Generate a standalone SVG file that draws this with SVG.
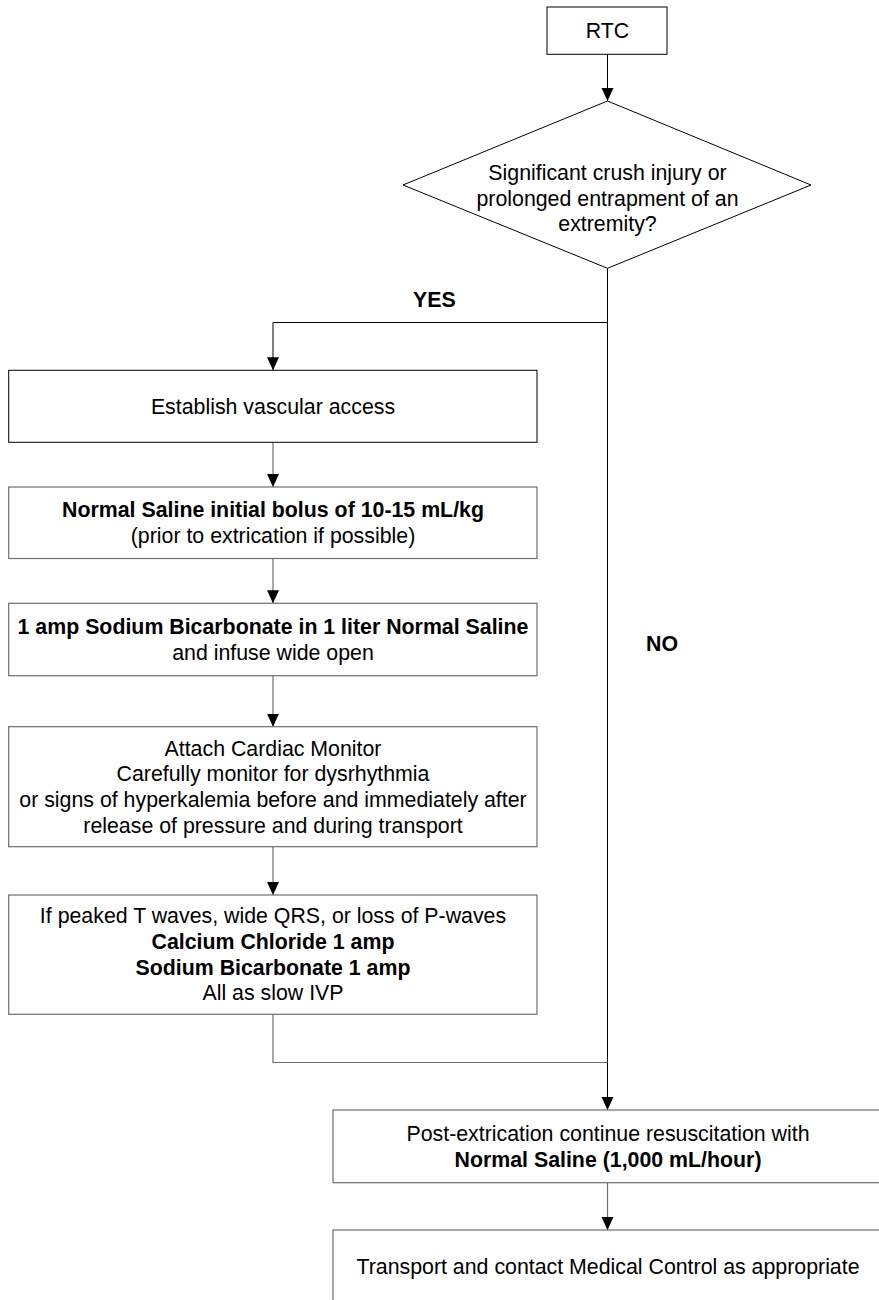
<svg xmlns="http://www.w3.org/2000/svg" width="879" height="1300" viewBox="0 0 879 1300">
<style>
text{font-family:"Liberation Sans",Arial,sans-serif;font-size:21.33px;fill:#000;text-anchor:middle}
.b{font-weight:bold}
.l{text-anchor:start}
.nd{fill:#fff;stroke:#000;stroke-width:1}
.ng{fill:#fff;stroke:#6e6e6e;stroke-width:1.2}
.c{fill:none;stroke:#000;stroke-width:1}
.cg{fill:none;stroke:#6e6e6e;stroke-width:1.2}
</style>
<defs>
<marker id="ah" markerUnits="userSpaceOnUse" markerWidth="14" markerHeight="14" viewBox="0 0 14 14" refX="13" refY="7" orient="auto">
<path d="M0,1 L13,7 L0,13 Z" fill="#000"/>
</marker>
</defs>
<rect width="879" height="1300" fill="#fff"/>
<g id="connectors">
<path class="c" d="M607.5,54.5 V101" marker-end="url(#ah)"/>
<path class="c" d="M607.5,268.5 V1110" marker-end="url(#ah)"/>
<path class="c" d="M607.5,322.5 H273 V370.3" marker-end="url(#ah)"/>
<path class="cg" d="M273,442.3 V487" marker-end="url(#ah)"/>
<path class="cg" d="M273,558.5 V603.3" marker-end="url(#ah)"/>
<path class="cg" d="M273,675.7 V726.7" marker-end="url(#ah)"/>
<path class="cg" d="M273,846.7 V895" marker-end="url(#ah)"/>
<path class="cg" d="M273,1014.3 V1062.5 H607.5"/>
<path class="cg" d="M607.5,1182.7 V1230" marker-end="url(#ah)"/>
<text class="b l" x="413" y="306.7">YES</text>
<text class="b l" x="646" y="650.7">NO</text>
</g>
<g id="rtc">
<rect class="nd" x="547" y="7" width="120" height="47.3"/>
<text x="607.5" y="38.3">RTC</text>
</g>
<g id="decision">
<polygon class="nd" points="607.5,101 811,185 607.5,268.3 403,185"/>
<text x="607.5" y="180">Significant crush injury or</text>
<text x="607.5" y="205.5">prolonged entrapment of an</text>
<text x="607.5" y="231">extremity?</text>
</g>
<g id="access">
<rect class="nd" x="8.7" y="370.3" width="528.3" height="72"/>
<text x="273" y="413.5">Establish vascular access</text>
</g>
<g id="bolus">
<rect class="ng" x="8.7" y="487" width="528.3" height="71.5"/>
<text class="b" x="273" y="517.3">Normal Saline initial bolus of 10-15 mL/kg</text>
<text x="273" y="542.9">(prior to extrication if possible)</text>
</g>
<g id="bicarb">
<rect class="ng" x="8.7" y="603.3" width="528.3" height="72.4"/>
<text class="b" x="273" y="634.2">1 amp Sodium Bicarbonate in 1 liter Normal Saline</text>
<text x="273" y="659.8">and infuse wide open</text>
</g>
<g id="monitor">
<rect class="ng" x="8.7" y="726.7" width="528.3" height="120"/>
<text x="273" y="755.8">Attach Cardiac Monitor</text>
<text x="273" y="781.4">Carefully monitor for dysrhythmia</text>
<text x="273" y="807">or signs of hyperkalemia before and immediately after</text>
<text x="273" y="832.6">release of pressure and during transport</text>
</g>
<g id="hyperk">
<rect class="ng" x="8.7" y="895" width="528.3" height="119.3"/>
<text x="273" y="923.3">If peaked T waves, wide QRS, or loss of P-waves</text>
<text class="b" x="273" y="948.9">Calcium Chloride 1 amp</text>
<text class="b" x="273" y="974.5">Sodium Bicarbonate 1 amp</text>
<text x="273" y="1000.1">All as slow IVP</text>
</g>
<g id="post">
<rect class="ng" x="333" y="1110" width="560" height="72.7"/>
<text x="608" y="1141">Post-extrication continue resuscitation with</text>
<text class="b" x="608" y="1166.6">Normal Saline (1,000 mL/hour)</text>
</g>
<g id="transport">
<rect class="ng" x="333" y="1230" width="560" height="90"/>
<text x="608" y="1274.3">Transport and contact Medical Control as appropriate</text>
</g>
</svg>
